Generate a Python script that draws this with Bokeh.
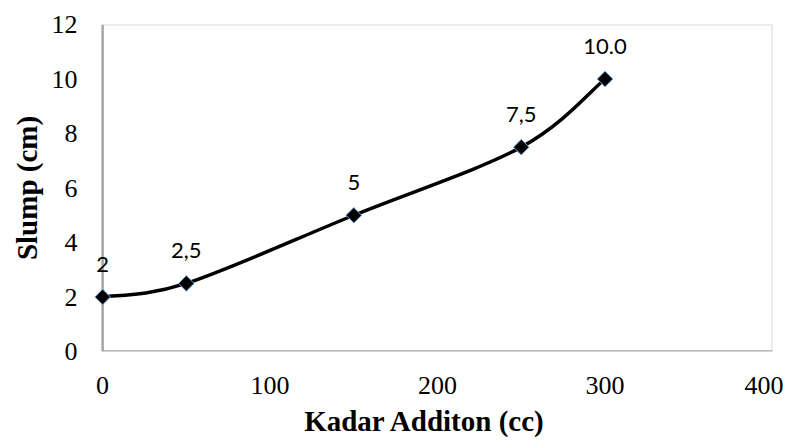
import math
from bokeh.plotting import figure
from bokeh.models import Range1d, FixedTicker, ColumnDataSource, LabelSet
from bokeh.core.properties import value
from bokeh.embed import file_html
from bokeh.resources import INLINE

# Data
kadar = [0, 50, 150, 250, 300]
slump = [2, 2.5, 5, 7.5, 10]
point_labels = ["2", "2,5", "5", "7,5", "10.0"]
x_ticks = [0, 100, 200, 300, 400]
y_ticks = [0, 2, 4, 6, 8, 10, 12]

x_lo, x_hi = x_ticks[0], x_ticks[-1]
y_lo, y_hi = y_ticks[0], y_ticks[-1]
pad = 15  # extra room left of x=0 so the first data label is not clipped

p = figure(width=783, height=439, output_backend="svg", toolbar_location=None,
           x_range=Range1d(x_lo - pad, x_hi), y_range=Range1d(y_lo, y_hi),
           min_border_left=77, min_border_right=11, min_border_top=24, min_border_bottom=75)

p.xgrid.visible = False
p.ygrid.visible = False
p.outline_line_color = None
p.background_fill_color = "white"
p.border_fill_color = "white"

# plot-area box: light top/right, darker left/bottom axis lines
p.segment(x0=[x_lo, x_hi], y0=[y_hi, y_lo], x1=[x_hi, x_hi], y1=[y_hi, y_hi],
          line_color="#D9D9D9", line_width=2)
p.segment(x0=[x_lo, x_lo], y0=[y_lo, y_lo], x1=[x_lo, x_hi], y1=[y_hi, y_lo],
          line_color="#A6A6A6", line_width=2.5)

# Smoothed line (Excel-like Catmull-Rom bezier segments)
n = len(kadar)
x0s, y0s, x1s, y1s, cx0s, cy0s, cx1s, cy1s = [], [], [], [], [], [], [], []
for i in range(n - 1):
    pm = (kadar[max(i - 1, 0)], slump[max(i - 1, 0)])
    p0 = (kadar[i], slump[i])
    p1 = (kadar[i + 1], slump[i + 1])
    p2 = (kadar[min(i + 2, n - 1)], slump[min(i + 2, n - 1)])
    x0s.append(p0[0]); y0s.append(p0[1])
    x1s.append(p1[0]); y1s.append(p1[1])
    cx0s.append(p0[0] + (p1[0] - pm[0]) / 6); cy0s.append(p0[1] + (p1[1] - pm[1]) / 6)
    cx1s.append(p1[0] - (p2[0] - p0[0]) / 6); cy1s.append(p1[1] - (p2[1] - p0[1]) / 6)

p.bezier(x0=x0s, y0=y0s, x1=x1s, y1=y1s, cx0=cx0s, cy0=cy0s, cx1=cx1s, cy1=cy1s,
         line_color="black", line_width=3.5)

src = ColumnDataSource(dict(x=kadar, y=slump, t=point_labels))
p.scatter("x", "y", source=src, marker="square", size=11, angle=math.pi / 4,
          fill_color="black", line_color="#6FA8DC", line_width=1)

labels = LabelSet(x="x", y="y", text="t", source=src, y_offset=33,
                  text_align="center", text_baseline="middle",
                  text_font=value("Lato"), text_font_size=value("22px"), text_color="#000000")
p.add_layout(labels)

for ax in (p.xaxis[0], p.yaxis[0]):
    ax.major_tick_line_color = None
    ax.minor_tick_line_color = None
    ax.major_tick_out = 0
    ax.major_tick_in = 0
    ax.axis_line_color = None
    ax.major_label_text_font = "Liberation Serif"
    ax.major_label_text_font_size = "26px"
    ax.major_label_text_color = "black"
    ax.axis_label_text_font = "Liberation Serif"
    ax.axis_label_text_font_size = "29px"
    ax.axis_label_text_font_style = "bold"
    ax.axis_label_text_color = "black"

p.xaxis.ticker = FixedTicker(ticks=x_ticks)
p.yaxis.ticker = FixedTicker(ticks=y_ticks)
p.xaxis.axis_label = "Kadar Additon (cc)"
p.yaxis.axis_label = "Slump (cm)"
p.xaxis.major_label_standoff = 25
p.yaxis.major_label_standoff = 0
p.xaxis.axis_label_standoff = 8
p.yaxis.axis_label_standoff = 6

open("out.html", "w").write(file_html(p, INLINE))
